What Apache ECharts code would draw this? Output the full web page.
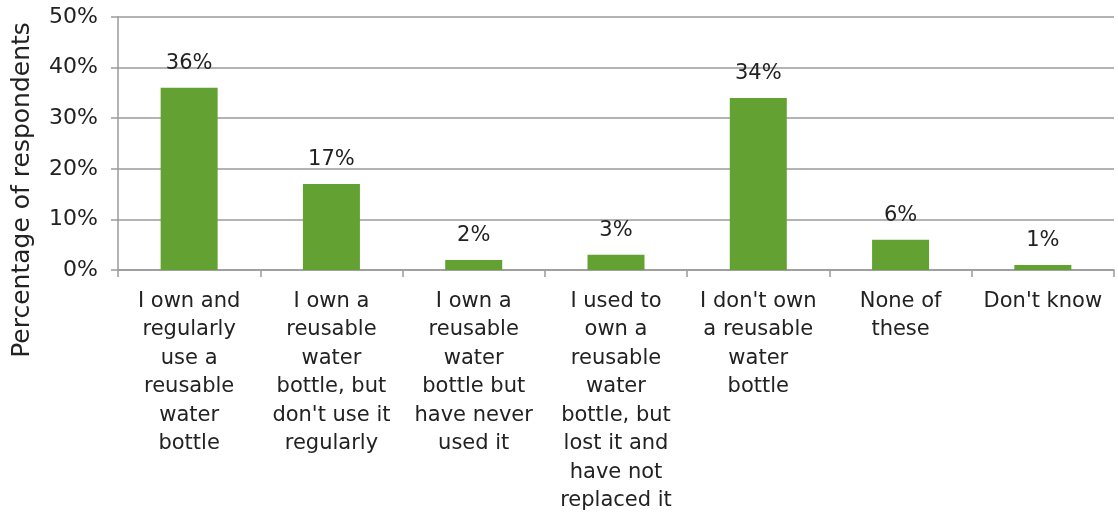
<!DOCTYPE html>
<html>
<head>
<meta charset="utf-8">
<script src="https://cdn.jsdelivr.net/npm/echarts@6/dist/echarts.min.js"></script>
<style>
  html, body { margin: 0; padding: 0; background: #fff; }
  #chart { width: 1118px; height: 518px; }
</style>
</head>
<body>
<div id="chart"></div>
<script>
// Answer options (line breaks as they wrap under each column)
const categories = [
  "I own and\nregularly\nuse a\nreusable\nwater\nbottle",
  "I own a\nreusable\nwater\nbottle, but\ndon't use it\nregularly",
  "I own a\nreusable\nwater\nbottle but\nhave never\nused it",
  "I used to\nown a\nreusable\nwater\nbottle, but\nlost it and\nhave not\nreplaced it",
  "I don't own\na reusable\nwater\nbottle",
  "None of\nthese",
  "Don't know"
];
// Share of respondents, percent
const shares = [36, 17, 2, 3, 34, 6, 1];
const yTicks = [0, 10, 20, 30, 40, 50];
const yTitle = "Percentage of respondents";

const FONT = "'DejaVu Sans', 'Open Sans', sans-serif";
const TEXT = "#222";
const GRID = "#9a9a9a";
const BAR = "#62a132";

const chart = echarts.init(document.getElementById("chart"), null, { renderer: "canvas" });
chart.setOption({
  animation: false,
  grid: { left: 118, right: 4, top: 17, bottom: 248, containLabel: false },
  xAxis: {
    type: "category",
    data: categories,
    axisLine: { show: true, lineStyle: { color: GRID, width: 1.5 } },
    axisTick: { show: true, length: 7, alignWithLabel: false, lineStyle: { color: GRID, width: 1.5 } },
    axisLabel: {
      interval: 0,
      margin: 17,
      color: TEXT,
      fontFamily: FONT,
      fontSize: 21,
      lineHeight: 28.5,
      align: "center",
      verticalAlign: "top"
    }
  },
  yAxis: {
    type: "value",
    min: yTicks[0],
    max: yTicks[yTicks.length - 1],
    interval: 10,
    axisLine: { show: true, lineStyle: { color: GRID, width: 1.5 } },
    axisTick: { show: true, length: 7, lineStyle: { color: GRID, width: 1.5 } },
    splitLine: { show: true, lineStyle: { color: GRID, width: 1.5 } },
    axisLabel: {
      color: TEXT,
      fontFamily: FONT,
      fontSize: 22,
      margin: 20,
      formatter: v => v + "%"
    }
  },
  graphic: [{
    type: "text",
    rotation: Math.PI / 2,
    x: 22,
    y: 190,
    style: {
      text: yTitle,
      fill: TEXT,
      font: "25px " + FONT,
      textAlign: "center",
      textVerticalAlign: "middle"
    }
  }],
  series: [{
    type: "bar",
    data: shares,
    barWidth: 57,
    itemStyle: { color: BAR },
    label: {
      show: true,
      position: "top",
      distance: 14,
      color: TEXT,
      fontFamily: FONT,
      fontSize: 21,
      formatter: p => p.value + "%"
    }
  }]
});
</script>
</body>
</html>
